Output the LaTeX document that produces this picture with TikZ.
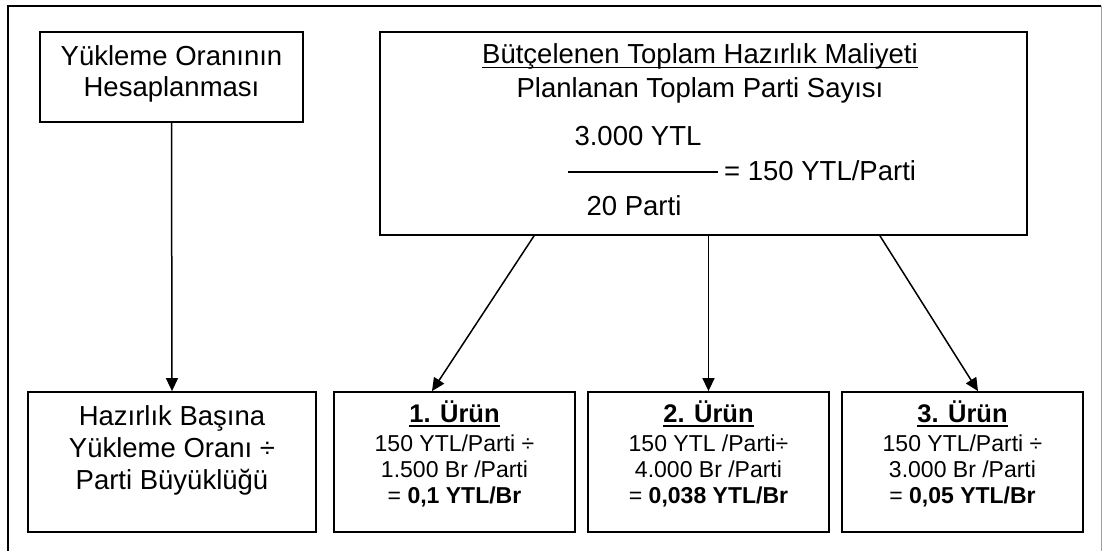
\documentclass[tikz,border=0pt]{standalone}
\usepackage{fontspec}
\setmainfont{Liberation Sans}
\usetikzlibrary{arrows.meta}
\begin{document}
\begin{tikzpicture}[x=1pt,y=-1pt,
  box/.style={draw=black, line width=1.8pt, inner sep=0pt},
  txt/.style={inner sep=0pt, anchor=base, font=\fontsize{27.5}{32}\selectfont},
  small/.style={inner sep=0pt, anchor=base, font=\fontsize{23}{27}\selectfont},
  head/.style={inner sep=0pt, anchor=base, font=\fontsize{25.5}{30}\selectfont\bfseries},
  uline/.style={line width=#1},
  arr/.style={line width=1.5pt, -{Triangle[length=13pt,width=12pt]}}]
\useasboundingbox (0,0) rectangle (1104,551);
\fill[white] (0,0) rectangle (1104,551);

% outer frame
\draw[line width=2.4pt] (8,551) -- (8,6) -- (1101,6);
\draw[gray!75, line width=1pt] (1101,6) -- (1101,551);

% boxes
\node[box, minimum width=263pt, minimum height=90pt] (rate) at (171.5,77) {};
\node[box, minimum width=647pt, minimum height=203pt] (budget) at (703.5,133.5) {};
\node[box, minimum width=288pt, minimum height=140pt] (prep) at (172,462) {};
\node[box, minimum width=241pt, minimum height=140pt] (p1) at (454.5,462) {};
\node[box, minimum width=241pt, minimum height=140pt] (p2) at (708.5,462) {};
\node[box, minimum width=241pt, minimum height=140pt] (p3) at (962.5,462) {};

% box texts
\node[txt] (rateA) at (171.5,66) {Yükleme Oranının};
\node[txt] (rateB) at (171.5,96) {Hesaplanması};

\node[txt] (bTitle) at (700,64) {Bütçelenen Toplam Hazırlık Maliyeti};
\draw[uline=1.4pt] ([yshift=-3.5pt]bTitle.base west) -- ([yshift=-3.5pt]bTitle.base east);
\node[txt] (bSub) at (700,98) {Planlanan Toplam Parti Sayısı};
\node[txt] (num) at (638,145) {3.000 YTL};
\node[txt] (den) at (634,215) {20 Parti};
\node[txt, anchor=base west] (res) at (724,180) {= 150 YTL/Parti};
\draw[line width=1.5pt] (568,172) -- (718,172);

\node[txt] (prepA) at (172,425) {Hazırlık Başına};
\node[txt] (prepB) at (172,457) {Yükleme Oranı ÷};
\node[txt] (prepC) at (172,489) {Parti Büyüklüğü};

\node[head] (p1h) at (454.5,422) {1. Ürün};
\node[small] (p1a) at (454.5,451) {150 YTL/Parti ÷};
\node[small] (p1b) at (454.5,477) {1.500 Br /Parti};
\node[small] (p1c) at (454.5,503) {= \textbf{0,1 YTL/Br}};

\node[head] (p2h) at (708.5,422) {2. Ürün};
\node[small] (p2a) at (708.5,451) {150 YTL /Parti÷};
\node[small] (p2b) at (708.5,477) {4.000 Br /Parti};
\node[small] (p2c) at (708.5,503) {= \textbf{0,038 YTL/Br}};

\node[head] (p3h) at (962.5,422) {3. Ürün};
\node[small] (p3a) at (962.5,451) {150 YTL/Parti ÷};
\node[small] (p3b) at (962.5,477) {3.000 Br /Parti};
\node[small] (p3c) at (962.5,503) {= \textbf{0,05 YTL/Br}};

% underlines of the product headings
\foreach \h in {p1h,p2h,p3h}
  \draw[uline=2pt] ([yshift=-4pt]\h.base west) -- ([yshift=-4pt]\h.base east);

% connectors
\draw[arr] (rate.south) -- (prep.north);
\draw[arr] ([xshift=-169.5pt]budget.south) -- ([xshift=-22.5pt]p1.north);
\draw[arr] (budget.south -| p2.north) -- (p2.north);
\draw[arr] ([xshift=176.5pt]budget.south) -- ([xshift=15.5pt]p3.north);
\end{tikzpicture}
\end{document}
